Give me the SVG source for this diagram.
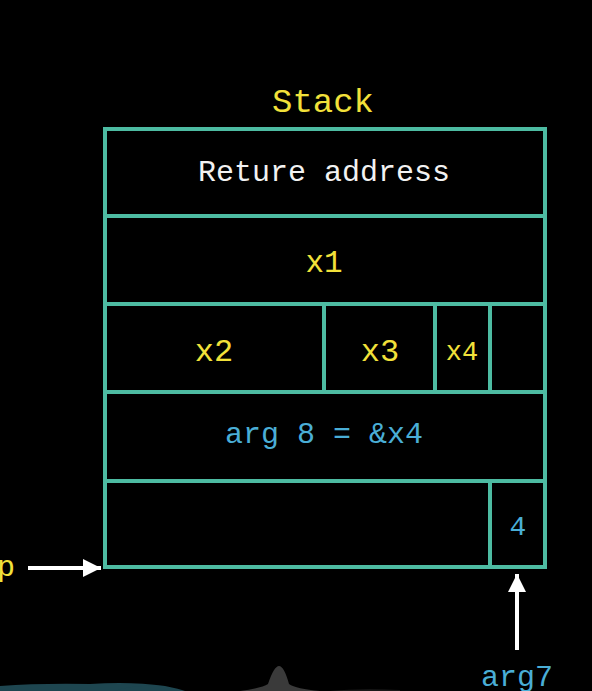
<svg xmlns="http://www.w3.org/2000/svg" width="592" height="691" viewBox="0 0 592 691">
<defs>
<style>
.box{fill:none;stroke:#4dbba2;stroke-width:4}
.t{font-family:"Liberation Mono","DejaVu Sans Mono",monospace;font-size:30px;text-anchor:middle}
.y{fill:#f2e13a}
.w{fill:#f2f2f2}
.b{fill:#4aaed6}
.arr{stroke:#ffffff;stroke-width:4;fill:none}
</style>
<marker id="ah" viewBox="0 0 10 10" refX="10" refY="5" markerWidth="5" markerHeight="4.5" markerUnits="strokeWidth" orient="auto">
<path d="M0,0 L10,5 L0,10 z" fill="#ffffff"/>
</marker>
</defs>
<rect width="592" height="691" fill="#000000"/>
<g id="bottom-artifacts">
<path d="M0,691 L0,686 Q40,683 90,684 Q130,681 165,686 L165,691 z" fill="#1e4650"/>
<path d="M115,691 Q130,685 165,686 Q180,689 185,691 z" fill="#1e4650"/>
<path d="M240,691 Q262,688 268,684 Q274,666 279,666 Q284,666 289,684 Q296,689 320,691 z" fill="#3a3a3a"/>
<path d="M330,691 Q360,688 400,690 L400,691 z" fill="#1a1a1a"/>
</g>
<g id="title">
<text class="t y" x="323" y="112" style="font-size:34px">Stack</text>
</g>
<g id="stack">
<rect class="box" x="105" y="129" width="440" height="438"/>
</g>
<g id="row-return">
<text class="t w" x="324" y="181">Reture address</text>
</g>
<g id="row-x1">
<line class="box" x1="105" y1="216" x2="545" y2="216"/>
<text class="t y" x="324" y="272" style="font-size:31px">x1</text>
</g>
<g id="row-x2x3x4">
<line class="box" x1="105" y1="304" x2="545" y2="304"/>
<line class="box" x1="324" y1="304" x2="324" y2="392"/>
<line class="box" x1="435" y1="304" x2="435" y2="392"/>
<line class="box" x1="490" y1="304" x2="490" y2="392"/>
<text class="t y" x="214" y="361" style="font-size:32px">x2</text>
<text class="t y" x="380" y="361" style="font-size:32px">x3</text>
<text class="t y" x="462" y="360" style="font-size:27px">x4</text>
</g>
<g id="row-arg8">
<line class="box" x1="105" y1="392" x2="545" y2="392"/>
<text class="t b" x="324" y="443">arg 8 = &amp;x4</text>
</g>
<g id="row-arg7">
<line class="box" x1="105" y1="481" x2="545" y2="481"/>
<line class="box" x1="490" y1="481" x2="490" y2="567"/>
<text class="t b" x="518" y="535" style="font-size:28px">4</text>
</g>
<g id="label-p">
<text class="t y" x="6" y="576">p</text>
</g>
<g id="label-arg7">
<text class="t b" x="517" y="686">arg7</text>
</g>
<g id="connectors">
<line class="arr" x1="28" y1="568" x2="101" y2="568" marker-end="url(#ah)"/>
<line class="arr" x1="517" y1="650" x2="517" y2="574" marker-end="url(#ah)"/>
</g>
</svg>
